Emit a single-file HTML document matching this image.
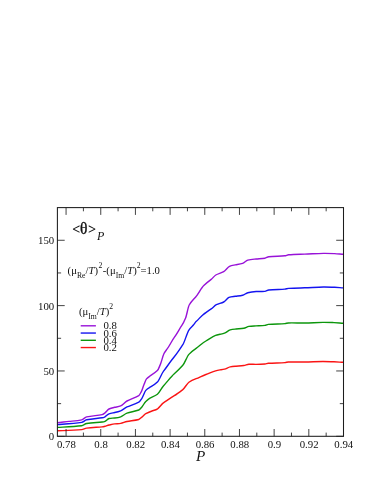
<!DOCTYPE html>
<html><head><meta charset="utf-8"><title>plot</title>
<style>
html,body{margin:0;padding:0;background:#fff;}
body{width:382px;height:494px;overflow:hidden;position:relative;font-family:"Liberation Serif",serif;}
svg{position:absolute;left:0;top:0;will-change:transform;}
text{font-family:"Liberation Serif",serif;fill:#111;}
.sym{font-family:"Liberation Serif",serif;}
</style></head><body>
<svg width="382" height="494" viewBox="0 0 382 494">
<rect x="0" y="0" width="382" height="494" fill="#ffffff"/>
<g fill="none" stroke-linejoin="round" stroke-linecap="butt" stroke-width="1.4">
<path stroke="#fa1414" d="M57.40 430.80C65.50 430.46 73.60 430.24 81.70 429.60C83.33 429.47 84.97 428.28 86.60 428.10C91.77 427.52 96.93 427.33 102.10 426.90C103.07 426.82 104.03 426.53 105.00 426.30C106.33 425.99 107.67 425.28 109.00 425.00C110.90 424.60 112.80 424.12 114.70 423.90C116.70 423.67 118.70 423.73 120.70 423.40C122.80 423.05 124.90 421.88 127.00 421.50C130.93 420.78 134.87 420.49 138.80 419.50C139.83 419.24 140.87 417.83 141.90 417.10C143.20 416.18 144.50 414.37 145.80 413.70C147.87 412.64 149.93 411.73 152.00 411.00C153.87 410.34 155.73 409.93 157.60 408.80C159.53 407.63 161.47 404.19 163.40 402.90C167.03 400.48 170.67 397.82 174.30 395.70C177.13 394.05 179.97 391.81 182.80 389.60C184.83 388.01 186.87 383.72 188.90 382.30C191.30 380.63 193.70 379.64 196.10 378.70C199.37 377.43 202.63 375.62 205.90 374.50C209.13 373.39 212.37 371.70 215.60 370.80C217.07 370.39 218.53 370.14 220.00 369.90C221.50 369.66 223.00 369.48 224.50 369.10C226.40 368.62 228.30 367.31 230.20 366.90C232.13 366.49 234.07 366.37 236.00 366.20C238.60 365.97 241.20 365.83 243.80 365.50C245.50 365.29 247.20 364.43 248.90 364.30C251.27 364.12 253.63 364.44 256.00 364.40C259.00 364.35 262.00 364.23 265.00 364.00C266.10 363.92 267.20 363.37 268.30 363.30C273.87 362.97 279.43 362.91 285.00 362.60C286.13 362.54 287.27 362.03 288.40 362.00C293.93 361.86 299.47 362.07 305.00 362.00C310.97 361.93 316.93 361.53 322.90 361.50C326.60 361.48 330.30 361.68 334.00 361.80C337.17 361.90 340.33 362.16 343.50 362.30"/>
<path stroke="#0c960c" d="M57.40 427.40C65.50 426.92 73.60 426.62 81.70 425.70C83.33 425.51 84.97 423.75 86.60 423.50C91.77 422.70 96.93 422.53 102.10 422.00C103.07 421.90 104.03 421.72 105.00 421.30C106.33 420.73 107.67 418.89 109.00 418.50C110.90 417.95 112.80 418.23 114.70 418.00C116.70 417.75 118.70 417.46 120.70 416.80C122.80 416.10 124.90 413.87 127.00 413.20C130.93 411.94 134.87 411.41 138.80 410.00C139.83 409.63 140.87 407.98 141.90 406.90C143.20 405.54 144.50 402.60 145.80 401.40C147.20 400.11 148.60 398.83 150.00 398.10C152.47 396.82 154.93 396.21 157.40 394.30C159.40 392.75 161.40 387.96 163.40 385.90C167.03 382.15 170.67 377.08 174.30 373.80C177.13 371.24 179.97 368.50 182.80 365.30C184.83 363.00 186.87 356.61 188.90 354.40C191.30 351.79 193.70 349.91 196.10 348.30C199.37 346.11 202.63 342.84 205.90 341.00C209.13 339.18 212.37 336.71 215.60 335.40C217.07 334.81 218.53 334.61 220.00 334.30C221.50 333.98 223.00 333.75 224.50 333.20C226.40 332.50 228.30 330.49 230.20 329.90C232.13 329.30 234.07 329.19 236.00 329.00C238.60 328.74 241.20 328.75 243.80 328.30C245.50 328.01 247.20 326.68 248.90 326.40C251.27 326.00 253.63 326.02 256.00 325.90C259.00 325.74 262.00 325.71 265.00 325.40C266.10 325.29 267.20 324.48 268.30 324.40C273.87 323.97 279.43 323.94 285.00 323.60C286.13 323.53 287.27 322.98 288.40 322.95C293.93 322.81 299.47 323.08 305.00 323.00C310.97 322.91 316.93 322.42 322.90 322.35C326.60 322.31 330.30 322.47 334.00 322.60C337.17 322.71 340.33 323.03 343.50 323.20"/>
<path stroke="#1414f0" d="M57.40 424.60C65.50 423.98 73.60 423.53 81.70 422.40C83.33 422.17 84.97 420.11 86.60 419.80C91.77 418.81 96.93 418.52 102.10 417.80C103.07 417.67 104.03 417.28 105.00 416.80C106.33 416.14 107.67 414.30 109.00 413.80C110.90 413.08 112.80 412.91 114.70 412.50C116.70 412.06 118.70 411.57 120.70 410.80C122.80 409.99 124.90 407.75 127.00 406.90C130.93 405.31 134.87 404.13 138.80 402.20C139.83 401.69 140.87 399.78 141.90 398.30C143.20 396.44 144.50 391.91 145.80 390.40C147.20 388.77 148.60 388.06 150.00 387.20C152.47 385.68 154.93 384.47 157.40 382.00C159.40 380.00 161.40 373.93 163.40 371.40C167.03 366.79 170.67 361.05 174.30 356.80C177.13 353.49 179.97 349.10 182.80 344.70C184.83 341.54 186.87 333.31 188.90 330.10C190.40 327.73 191.90 326.51 193.40 325.00C194.30 324.10 195.20 322.40 196.10 321.60C198.67 319.31 201.23 315.93 203.80 314.10C206.27 312.34 208.73 310.46 211.20 308.90C212.93 307.80 214.67 305.51 216.40 304.70C218.83 303.56 221.27 303.20 223.70 302.00C225.47 301.13 227.23 298.14 229.00 297.40C231.10 296.52 233.20 296.58 235.30 296.30C237.73 295.98 240.17 295.90 242.60 295.30C244.33 294.88 246.07 293.11 247.80 292.70C250.60 292.03 253.40 291.68 256.20 291.50C259.10 291.31 262.00 291.70 264.90 291.40C266.17 291.27 267.43 290.12 268.70 290.00C274.07 289.47 279.43 289.47 284.80 289.10C286.07 289.01 287.33 288.47 288.60 288.40C293.97 288.10 299.33 287.98 304.70 287.80C310.97 287.59 317.23 287.09 323.50 287.00C327.20 286.95 330.90 287.17 334.60 287.30C337.57 287.41 340.53 287.69 343.50 287.85"/>
<path stroke="#9812d8" d="M57.40 422.70C61.30 422.33 65.20 421.78 69.10 421.40C73.30 420.99 77.50 420.82 81.70 419.90C83.33 419.54 84.97 417.26 86.60 416.90C91.77 415.76 96.93 415.55 102.10 414.60C103.07 414.42 104.03 413.57 105.00 412.90C106.33 411.98 107.67 409.65 109.00 409.00C110.90 408.07 112.80 407.73 114.70 407.30C116.70 406.85 118.70 406.77 120.70 405.90C122.80 404.99 124.90 402.02 127.00 401.00C130.93 399.10 134.87 397.84 138.80 395.60C139.70 395.09 140.60 392.93 141.50 391.30C142.33 389.79 143.17 386.26 144.00 384.50C144.83 382.74 145.67 379.90 146.50 378.90C147.67 377.50 148.83 376.76 150.00 376.00C152.47 374.40 154.93 372.92 157.40 370.60C158.37 369.69 159.33 366.72 160.30 364.60C161.50 361.96 162.70 356.14 163.90 353.80C164.93 351.78 165.97 350.59 167.00 349.20C169.43 345.94 171.87 340.71 174.30 337.40C176.87 333.91 179.43 328.95 182.00 325.20C183.20 323.45 184.40 320.86 185.60 318.00C186.80 315.14 188.00 307.12 189.20 305.00C191.37 301.17 193.53 299.45 195.70 297.00C198.40 293.95 201.10 288.21 203.80 285.60C206.27 283.22 208.73 281.25 211.20 279.40C212.73 278.25 214.27 275.80 215.80 275.00C218.43 273.62 221.07 273.12 223.70 271.70C225.63 270.66 227.57 267.26 229.50 266.30C231.43 265.34 233.37 265.26 235.30 264.90C237.73 264.44 240.17 264.19 242.60 263.40C244.33 262.83 246.07 260.58 247.80 260.10C250.60 259.33 253.40 259.26 256.20 259.00C259.10 258.73 262.00 258.65 264.90 258.20C266.17 258.00 267.43 256.83 268.70 256.70C274.07 256.15 279.43 256.24 284.80 255.80C286.07 255.70 287.33 254.89 288.60 254.80C293.97 254.42 299.33 254.34 304.70 254.15C310.97 253.93 317.23 253.45 323.50 253.35C327.20 253.29 330.90 253.45 334.60 253.60C337.57 253.72 340.53 254.10 343.50 254.30"/>
</g>
<g stroke="#222" stroke-width="0.85" fill="none">
<path d="M66.07 436.30v-7.30 M66.07 207.60v7.30"/>
<path d="M83.41 436.30v-3.70 M83.41 207.60v3.70"/>
<path d="M100.75 436.30v-7.30 M100.75 207.60v7.30"/>
<path d="M118.09 436.30v-3.70 M118.09 207.60v3.70"/>
<path d="M135.43 436.30v-7.30 M135.43 207.60v7.30"/>
<path d="M152.77 436.30v-3.70 M152.77 207.60v3.70"/>
<path d="M170.11 436.30v-7.30 M170.11 207.60v7.30"/>
<path d="M187.45 436.30v-3.70 M187.45 207.60v3.70"/>
<path d="M204.78 436.30v-7.30 M204.78 207.60v7.30"/>
<path d="M222.12 436.30v-3.70 M222.12 207.60v3.70"/>
<path d="M239.46 436.30v-7.30 M239.46 207.60v7.30"/>
<path d="M256.80 436.30v-3.70 M256.80 207.60v3.70"/>
<path d="M274.14 436.30v-7.30 M274.14 207.60v7.30"/>
<path d="M291.48 436.30v-3.70 M291.48 207.60v3.70"/>
<path d="M308.82 436.30v-7.30 M308.82 207.60v7.30"/>
<path d="M326.16 436.30v-3.70 M326.16 207.60v3.70"/>
<path d="M343.50 436.30v-7.30 M343.50 207.60v7.30"/>
<path d="M57.40 436.30h7.30 M343.50 436.30h-7.30"/>
<path d="M57.40 403.63h3.70 M343.50 403.63h-3.70"/>
<path d="M57.40 370.96h7.30 M343.50 370.96h-7.30"/>
<path d="M57.40 338.29h3.70 M343.50 338.29h-3.70"/>
<path d="M57.40 305.61h7.30 M343.50 305.61h-7.30"/>
<path d="M57.40 272.94h3.70 M343.50 272.94h-3.70"/>
<path d="M57.40 240.27h7.30 M343.50 240.27h-7.30"/>
</g>
<rect x="57.40" y="207.60" width="286.10" height="228.70" fill="none" stroke="#1c1c1c" stroke-width="1.05"/>
<g font-size="10.8" text-anchor="middle">
<text x="66.37" y="448.3">0.78</text>
<text x="101.05" y="448.3">0.8</text>
<text x="135.73" y="448.3">0.82</text>
<text x="170.41" y="448.3">0.84</text>
<text x="205.08" y="448.3">0.86</text>
<text x="239.76" y="448.3">0.88</text>
<text x="274.44" y="448.3">0.9</text>
<text x="309.12" y="448.3">0.92</text>
<text x="343.80" y="448.3">0.94</text>
</g>
<g font-size="10.8" text-anchor="end">
<text x="54.2" y="440.20">0</text>
<text x="54.2" y="374.86">50</text>
<text x="54.2" y="309.51">100</text>
<text x="54.2" y="244.17">150</text>
</g>
<text x="200.7" y="461.4" font-size="15.2" font-style="italic" text-anchor="middle">P</text>
<text x="72.3" y="233.5" font-size="14.2" font-weight="bold">&lt;</text><text x="88.0" y="233.5" font-size="14.2" font-weight="bold">&gt;</text>
<text transform="translate(80.0 233.6) scale(1 1.09)" x="0" y="0" font-size="15.5" stroke="#111" stroke-width="0.35">θ</text>
<text x="97.0" y="240.1" font-size="12" font-style="italic">P</text>
<text x="67.60" y="274.00" font-size="10.7"><tspan>(μ</tspan><tspan dy="3.8" font-size="7.7">Re</tspan><tspan dy="-3.8">/</tspan><tspan font-style="italic">T</tspan><tspan>)</tspan><tspan dy="-6" dx="0.5" font-size="7.7">2</tspan><tspan dy="6" dx="0.5">-(μ</tspan><tspan dy="3.8" font-size="7.7">Im</tspan><tspan dy="-3.8">/</tspan><tspan font-style="italic">T</tspan><tspan>)</tspan><tspan dy="-6" font-size="7.7">2</tspan><tspan dy="6">=1.0</tspan></text>
<text x="79.00" y="315.10" font-size="10.7"><tspan>(μ</tspan><tspan dy="3.8" font-size="7.7">Im</tspan><tspan dy="-3.8">/</tspan><tspan font-style="italic">T</tspan><tspan>)</tspan><tspan dy="-6" font-size="7.7">2</tspan></text>
<path d="M80.7 325.80H95.9" stroke="#9812d8" stroke-width="1.4" fill="none"/>
<text x="103.4" y="329.30" font-size="10.8">0.8</text>
<path d="M80.7 333.05H95.9" stroke="#1414f0" stroke-width="1.4" fill="none"/>
<text x="103.4" y="336.55" font-size="10.8">0.6</text>
<path d="M80.7 340.30H95.9" stroke="#0c960c" stroke-width="1.4" fill="none"/>
<text x="103.4" y="343.80" font-size="10.8">0.4</text>
<path d="M80.7 347.55H95.9" stroke="#fa1414" stroke-width="1.4" fill="none"/>
<text x="103.4" y="351.05" font-size="10.8">0.2</text>
</svg>
</body></html>
